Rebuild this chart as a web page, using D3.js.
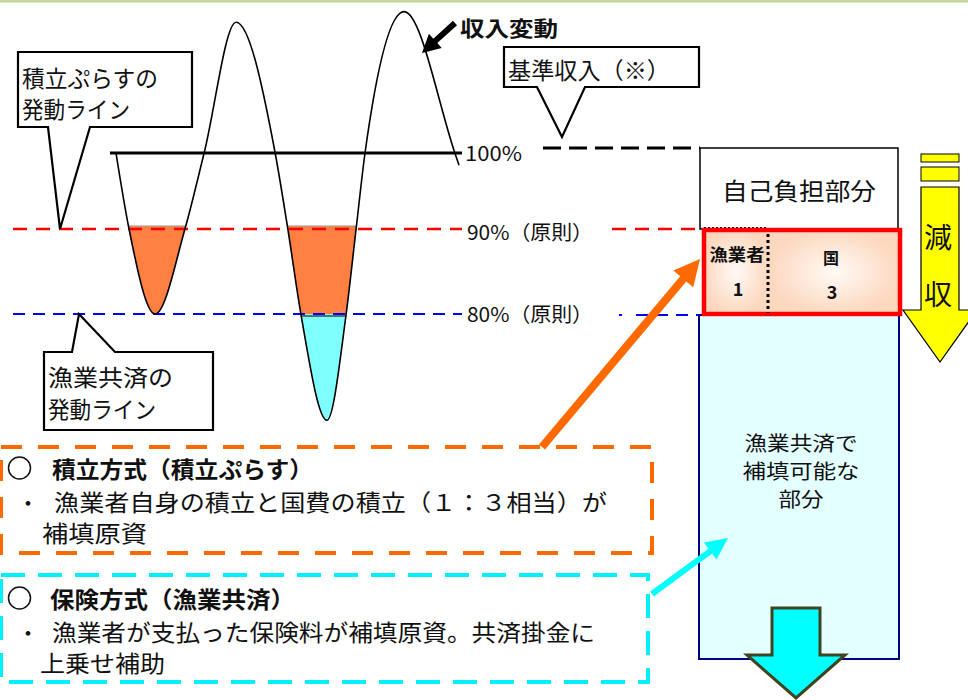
<!DOCTYPE html>
<html><head><meta charset="utf-8">
<script src="https://cdn.jsdelivr.net/npm/d3@7"></script>
<style>
body{margin:0;background:#fff}
svg{display:block}
text{font-family:"Noto Sans CJK JP","Noto Sans",sans-serif;fill:#111}
</style>
</head><body>
<svg id="c" width="968" height="700"></svg>
<script>
// ---------- data ----------
const timePoints = [0, 3.8, 11.4, 20.1, 25.7, 35, 46.4, 50.1, 53.9, 61.5, 67.1, 70, 72.6, 84, 98.8, 100];
const incomePct  = [100, 90, 80, 90, 100, 117.2, 100, 90, 80, 67.5, 80, 90, 100, 118.6, 100, 98.4];
const lineLevels = [100, 90, 80];
const lineLabels = ["100%", "90%（原則）", "80%（原則）"];
const lineColors = ["#000", "#ff0000", "#0000ff"];
const panelLevels = [100, 90, 80, 40];
const panelLabels = ["自己負担部分", "", "漁業共済で|補填可能な|部分"];
const shareNames = ["漁業者", "国"];
const shareRatio = ["1", "3"];
const calloutTexts = ["積立ぷらすの|発動ライン", "基準収入（※）", "漁業共済の|発動ライン"];
const curveTitle = "収入変動";
const dropLabel = ["減", "収"];
const methodTitles = ["積立方式（積立ぷらす）", "保険方式（漁業共済）"];
const methodLines = [
  ["漁業者自身の積立と国費の積立（１：３相当）が", "補填原資"],
  ["漁業者が支払った保険料が補填原資。共済掛金に", "上乗せ補助"]
];

// ---------- scales ----------
const svg = d3.select("#c");
const xT = d3.scaleLinear().domain([0, 100]).range([116, 459]);
const yL = d3.scaleLinear().domain([80, 90, 100]).range([314, 229, 153]);
const yR = d3.scaleLinear().domain([80, 90, 100]).range([315, 229, 148]);

const pts = timePoints.map((t, i) => ({t, v: incomePct[i]}));

function txt(x, y, s, size, o = {}) {
  const t = svg.append("text").attr("x", x).attr("y", y)
    .attr("dominant-baseline", "central")
    .attr("font-size", size)
    .attr("font-weight", o.bold ? 700 : 400)
    .attr("text-anchor", o.anchor || "start")
    .text(s);
  if (o.w) t.attr("textLength", o.w).attr("lengthAdjust", "spacingAndGlyphs");
  return t;
}
function arrow(x1, y1, x2, y2, sw, hw, hl) {
  const dx = x2 - x1, dy = y2 - y1, L = Math.hypot(dx, dy);
  const ux = dx / L, uy = dy / L, nx = -uy, ny = ux;
  const bx = x2 - ux * hl, by = y2 - uy * hl;
  const p = [
    [x1 + nx * sw / 2, y1 + ny * sw / 2], [bx + nx * sw / 2, by + ny * sw / 2],
    [bx + nx * hw / 2, by + ny * hw / 2], [x2, y2],
    [bx - nx * hw / 2, by - ny * hw / 2], [bx - nx * sw / 2, by - ny * sw / 2],
    [x1 - nx * sw / 2, y1 - ny * sw / 2]
  ];
  return "M" + p.map(d => d.join(",")).join("L") + "Z";
}

// top green rule
svg.append("line").attr("x1", 0).attr("x2", 968).attr("y1", 1).attr("y2", 1)
  .attr("stroke", "#c3d69b").attr("stroke-width", 3);

// ---------- fills below 90% ----------
const defs = svg.append("defs");
defs.append("clipPath").attr("id", "clipO").append("rect")
  .attr("x", 0).attr("width", 968).attr("y", yL(90) - 3).attr("height", yL(80) - yL(90) + 3);
defs.append("clipPath").attr("id", "clipC").append("rect")
  .attr("x", 0).attr("width", 968).attr("y", yL(80)).attr("height", 700);
const area = d3.area().x(d => xT(d.t)).y0(yL(90) - 3).y1(d => yL(d.v)).curve(d3.curveMonotoneX);
svg.append("path").attr("d", area(pts)).attr("fill", "#ff8040").attr("clip-path", "url(#clipO)");
svg.append("path").attr("d", area(pts)).attr("fill", "#80ffff").attr("clip-path", "url(#clipC)");
// boundary lines on fills
const below = pts.filter(d => d.v === 90);
for (let i = 0; i + 1 < below.length; i += 2) {
  svg.append("line").attr("x1", xT(below[i].t)).attr("x2", xT(below[i + 1].t))
    .attr("y1", yL(90) - 3).attr("y2", yL(90) - 3).attr("stroke", "#999").attr("stroke-width", 1);
}
const b80 = pts.filter(d => d.v === 80);
const idxMin = incomePct.indexOf(d3.min(incomePct));
const left80 = b80.filter(d => d.t < timePoints[idxMin]).pop(), right80 = b80.find(d => d.t > timePoints[idxMin]);
svg.append("line").attr("x1", xT(left80.t)).attr("x2", xT(right80.t))
  .attr("y1", yL(80) + 2).attr("y2", yL(80) + 2).attr("stroke", "#444").attr("stroke-width", 1.5);

// ---------- level lines ----------
svg.append("line").attr("x1", 110).attr("x2", 462).attr("y1", yL(100)).attr("y2", yL(100))
  .attr("stroke", "#000").attr("stroke-width", 3);
svg.append("line").attr("x1", 543).attr("x2", 700).attr("y1", yR(100)).attr("y2", yR(100))
  .attr("stroke", "#000").attr("stroke-width", 3).attr("stroke-dasharray", "18,8");
[1, 2].forEach(i => {
  const lv = lineLevels[i];
  svg.append("line").attr("x1", 13).attr("x2", 462).attr("y1", yL(lv)).attr("y2", yL(lv))
    .attr("stroke", lineColors[i]).attr("stroke-width", i === 1 ? 2.5 : 2)
    .attr("stroke-dasharray", i === 1 ? "14,9" : "12,8");
  svg.append("line").attr("x1", i === 1 ? 612 : 619).attr("x2", 700).attr("y1", yR(lv)).attr("y2", yR(lv))
    .attr("stroke", lineColors[i]).attr("stroke-width", i === 1 ? 2.5 : 2)
    .attr("stroke-dasharray", i === 1 ? "14,9" : "3,14,12,8,12,8,12,8");
});

// ---------- income curve ----------
const line = d3.line().x(d => xT(d.t)).y(d => yL(d.v)).curve(d3.curveMonotoneX);
svg.append("path").attr("d", line(pts)).attr("fill", "none").attr("stroke", "#000").attr("stroke-width", 1.6);

txt(465, yL(100) - 1, lineLabels[0], 20, {w: 57});
txt(467, yL(90) + 2, lineLabels[1], 20, {w: 126});
txt(467, yL(80) - 1, lineLabels[2], 20, {w: 126});

svg.append("path").attr("d", arrow(455, 23, 422, 53, 6, 19, 18)).attr("fill", "#000");
txt(460, 27, curveTitle, 21, {bold: true, w: 98});

// ---------- callouts ----------
function callout(r, base, bx1, bx2, tip) {
  let d;
  if (base === "bottom")
    d = `M${r[0]},${r[1]}H${r[2]}V${r[3]}H${bx2}L${tip[0]},${tip[1]}L${bx1},${r[3]}H${r[0]}Z`;
  else
    d = `M${r[0]},${r[1]}H${bx1}L${tip[0]},${tip[1]}L${bx2},${r[1]}H${r[2]}V${r[3]}H${r[0]}Z`;
  svg.append("path").attr("d", d).attr("fill", "#fff").attr("stroke", "#000").attr("stroke-width", 2.2)
    .attr("stroke-linejoin", "miter");
}
callout([18, 52, 192, 127], "bottom", 48, 90, [60, yL(90)]);
callout([504, 47, 699, 87], "bottom", 537, 585, [562, 137]);
callout([44, 352, 213, 430], "top", 72, 115, [79, yL(80)]);
{
  const a = calloutTexts[0].split("|");
  txt(22, 77, a[0], 23, {w: 136});
  txt(22, 108, a[1], 23, {w: 108});
  txt(508, 69, calloutTexts[1], 23, {w: 162});
  const c = calloutTexts[2].split("|");
  txt(48, 376, c[0], 23, {w: 125});
  txt(48, 408, c[1], 23, {w: 108});
}

// ---------- right panel ----------
const pX0 = 700, pX1 = 898;
svg.append("rect").attr("x", 699).attr("y", yR(panelLevels[2])).attr("width", 200)
  .attr("height", yR(panelLevels[3]) - yR(panelLevels[2]))
  .attr("fill", "#e4ffff").attr("stroke", "#000080").attr("stroke-width", 2);
svg.append("rect").attr("x", pX0).attr("y", yR(panelLevels[0])).attr("width", pX1 - pX0)
  .attr("height", yR(panelLevels[1]) - yR(panelLevels[0]))
  .attr("fill", "#fff").attr("stroke", "#000").attr("stroke-width", 1.5);
txt((pX0 + pX1) / 2, 189, panelLabels[0], 24, {anchor: "middle", w: 154});
const rg = defs.append("radialGradient").attr("id", "peach");
rg.append("stop").attr("offset", "0%").attr("stop-color", "#fffaf6");
rg.append("stop").attr("offset", "100%").attr("stop-color", "#fcd8bf");
const rx0 = 704, rx1 = 900, split = 768;
svg.append("rect").attr("x", rx0).attr("y", yR(90)).attr("width", split - rx0).attr("height", yR(80) - yR(90))
  .attr("fill", "url(#peach)");
svg.append("rect").attr("x", split).attr("y", yR(90)).attr("width", rx1 - split).attr("height", yR(80) - yR(90))
  .attr("fill", "url(#peach)");
svg.append("line").attr("x1", 704).attr("x2", 766).attr("y1", yR(90) - 1).attr("y2", yR(90) - 1)
  .attr("stroke", "#000").attr("stroke-width", 2).attr("stroke-dasharray", "2,2");
svg.append("rect").attr("x", rx0).attr("y", yR(90) + 1).attr("width", rx1 - rx0).attr("height", yR(80) - yR(90) - 2)
  .attr("fill", "none").attr("stroke", "#ff0000").attr("stroke-width", 4.5);
svg.append("line").attr("x1", split).attr("x2", split).attr("y1", yR(90) + 5).attr("y2", yR(80) - 2)
  .attr("stroke", "#000").attr("stroke-width", 3).attr("stroke-dasharray", "3,3");
txt((rx0 + split) / 2 + 1, 253, shareNames[0], 17, {bold: true, anchor: "middle", w: 55});
txt((rx0 + split) / 2 + 2, 288, shareRatio[0], 18, {bold: true, anchor: "middle"});
txt(831, 257, shareNames[1], 16, {bold: true, anchor: "middle"});
txt(832, 291, shareRatio[1], 18, {bold: true, anchor: "middle"});
panelLabels[2].split("|").forEach((s, i) => {
  txt(801, 442 + i * 28, s, 20, {anchor: "middle", w: [113, 117, 45][i]});
});
svg.append("path").attr("d", "M772,608H820V655H845L796,698L747,655H772Z")
  .attr("fill", "#00ffff").attr("stroke", "#3c4422").attr("stroke-width", 3).attr("stroke-linejoin", "miter");

svg.append("rect").attr("x", 921).attr("y", 154).attr("width", 38).attr("height", 8).attr("fill", "#ffff00").attr("stroke", "#000").attr("stroke-width", 1);
svg.append("rect").attr("x", 921).attr("y", 167).attr("width", 38).attr("height", 14).attr("fill", "#ffff00").attr("stroke", "#000").attr("stroke-width", 1);
svg.append("path").attr("d", "M921,187H959V310H977L940,362L903,310H921Z")
  .attr("fill", "#ffff00").attr("stroke", "#000").attr("stroke-width", 1.2);
txt(938, 236, dropLabel[0], 28, {anchor: "middle"});
txt(938, 293, dropLabel[1], 28, {anchor: "middle"});

// ---------- method boxes ----------
svg.append("rect").attr("x", 1).attr("y", 447).attr("width", 651).attr("height", 106)
  .attr("fill", "none").attr("stroke", "#ff6a00").attr("stroke-width", 4).attr("stroke-dasharray", "21,16");
svg.append("rect").attr("x", 1).attr("y", 575).attr("width", 647).attr("height", 107)
  .attr("fill", "none").attr("stroke", "#00f0ff").attr("stroke-width", 4).attr("stroke-dasharray", "24,13");

const boxY = [468, 598];
const firstW = [553, 543], secondW = [105, 125], titleW = [261, 245];
methodTitles.forEach((t, i) => {
  const y0 = boxY[i];
  svg.append("circle").attr("cx", 19.5).attr("cy", y0).attr("r", 11).attr("fill", "none").attr("stroke", "#111").attr("stroke-width", 1.5);
  txt(i === 0 ? 52 : 50, y0, t, 23, {bold: true, w: titleW[i]});
  txt(28, y0 + 33, "・", 22, {anchor: "middle"});
  txt(i === 0 ? 54 : 52, y0 + 33, methodLines[i][0], 23, {w: firstW[i]});
  txt(i === 0 ? 42 : 40, y0 + 64, methodLines[i][1], 23, {w: secondW[i]});
});

svg.append("path").attr("d", arrow(542, 447, 700, 259, 8, 26, 26)).attr("fill", "#ff6a00");
svg.append("path").attr("d", arrow(652, 594, 728, 538, 6, 21, 22)).attr("fill", "#00ffff");
</script>
</body></html>
